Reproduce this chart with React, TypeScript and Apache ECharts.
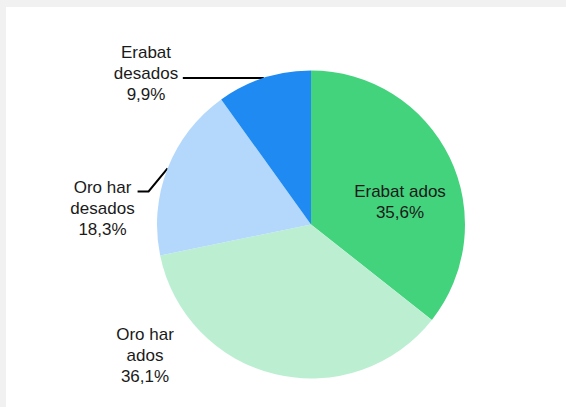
import React, { useEffect, useRef } from "react";
import * as echarts from "echarts";

const categories = ["Erabat ados", "Oro har ados", "Oro har desados", "Erabat desados"];
const values = [35.6, 36.1, 18.3, 9.9];
const colors = ["#44d37d", "#bcefd2", "#b3d8fb", "#1e8af2"];

const CX = 305;
const CY = 217.5;
const R = 154;

function fmtPct(v: number) {
  return v.toFixed(1).replace(".", ",") + "%";
}

export default function App() {
  const ref = useRef<HTMLDivElement>(null);
  useEffect(() => {
    document.body.style.margin = "0";
    document.body.style.background = "#f1f1f1";
    const chart = echarts.init(ref.current!, null, { renderer: "svg" });
    const font = "'Liberation Sans', Arial, sans-serif";
    const labelOffsets: Record<number, [number, number, string]> = {
      0: [89, -22.5, "center"],
      1: [-166, 130.5, "center"],
      2: [-208.5, -16, "center"],
      3: [-165, -151.5, "center"],
    };
    chart.setOption({
      animation: false,
      backgroundColor: "#ffffff",
      series: [
        {
          type: "pie",
          center: [CX, CY],
          radius: [0, R],
          startAngle: 90,
          clockwise: true,
          avoidLabelOverlap: false,
          label: {
            show: true,
            position: "outside",
            formatter: (p: any) => {
              const name: string = p.name;
              const pct = fmtPct(p.value);
              if (p.dataIndex === 0) return `{c|${name}}\n{c|${pct}}`;
              const i = name.lastIndexOf(" ");
              return `{c|${name.slice(0, i)}}\n{c|${name.slice(i + 1)}}\n{c|${pct}}`;
            },
            rich: {
              c: {
                align: "center",
                fontSize: 17,
                lineHeight: 21,
                fontFamily: font,
                color: "#1a1a1a",
              },
            },
          },
          labelLine: {
            show: true,
            length: 10,
            length2: 10,
            lineStyle: { color: "#000000", width: 2 },
          },
          labelLayout: (params: any) => {
            const idx = params.dataIndex;
            const off = labelOffsets[idx];
            const res: any = {
              x: CX + off[0],
              y: CY + off[1],
              align: off[2],
              verticalAlign: "middle",
            };
            const pts = params.labelLinePoints;
            if (pts && pts.length) {
              const e = pts[0];
              if (idx === 3) {
                res.labelLinePoints = [
                  [e[0], e[1]],
                  [e[0], e[1]],
                  [e[0] - 81, e[1]],
                ];
              } else if (idx === 2) {
                res.labelLinePoints = [
                  [e[0], e[1]],
                  [e[0] - 19, e[1] + 23],
                  [e[0] - 30, e[1] + 23],
                ];
              }
            }
            return res;
          },
          emphasis: { disabled: true },
          data: categories.map((name, i) => {
            const item: any = {
              name,
              value: values[i],
              itemStyle: { color: colors[i], borderWidth: 0 },
            };
            if (i === 0) {
              item.label = { position: "inside" };
              item.labelLine = { show: false };
            }
            if (i === 1) {
              item.labelLine = { show: false };
            }
            return item;
          }),
        },
      ],
    });
    return () => chart.dispose();
  }, []);
  return (
    <div style={{ paddingTop: 7, paddingLeft: 6, background: "#f1f1f1", width: 560, height: 400 }}>
      <div ref={ref} style={{ width: 560, height: 400, background: "#ffffff" }} />
    </div>
  );
}
